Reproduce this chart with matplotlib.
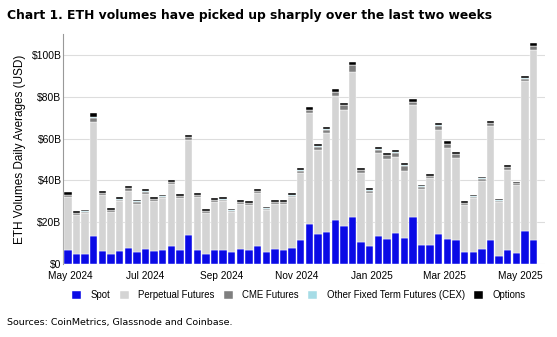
import numpy as np
import pandas as pd
import matplotlib
matplotlib.use("Agg")
import matplotlib.pyplot as plt
import matplotlib.dates as mdates
from matplotlib.ticker import FuncFormatter

# weekly bars, $B daily averages
weeks = pd.date_range("2024-04-29", periods=55, freq="7D")

total = [34.3, 25.2, 26.0, 72.4, 34.9, 26.9, 31.9, 37.3, 30.8, 35.7,
         31.9, 33.2, 40.2, 33.5, 61.9, 33.8, 26.3, 31.6, 31.9, 26.3,
         30.5, 30.1, 35.9, 27.3, 30.6, 30.6, 33.8, 45.9, 75.0, 57.3,
         65.4, 83.6, 77.2, 96.5, 46.1, 36.2, 56.0, 53.3, 54.5, 48.2,
         78.8, 37.9, 43.1, 67.5, 58.7, 53.7, 30.1, 33.2, 41.8, 68.6,
         31.1, 47.4, 39.4, 90.0, 105.6]
spot = [6.7, 4.6, 4.6, 13.5, 6.2, 4.8, 6.2, 7.5, 5.9, 6.9,
        6.1, 6.5, 8.5, 6.7, 13.7, 6.7, 4.9, 6.7, 6.7, 5.6,
        7.2, 6.7, 8.6, 5.9, 6.9, 6.5, 7.8, 11.2, 19.1, 14.4,
        15.3, 20.9, 18.3, 22.3, 10.7, 8.6, 13.1, 12.1, 14.7, 12.3,
        22.5, 9.0, 9.1, 14.4, 12.1, 11.6, 5.6, 5.6, 7.3, 11.2,
        4.0, 6.5, 5.1, 15.9, 11.5]
cme = [0.8, 0.6, 0.6, 2.2, 0.9, 0.9, 0.9, 1.0, 1.0, 0.9,
       0.8, 0.8, 1.0, 0.8, 1.2, 0.9, 0.8, 0.9, 0.8, 0.7,
       0.7, 0.8, 0.9, 0.6, 0.7, 0.8, 0.9, 1.2, 1.6, 1.5,
       1.6, 2.0, 2.0, 3.0, 1.2, 1.0, 1.6, 1.8, 2.0, 2.4,
       1.6, 0.9, 1.0, 2.0, 1.8, 1.5, 1.0, 0.9, 1.0, 1.5,
       0.8, 1.5, 0.8, 1.4, 2.0]
other_fixed = [0.2] * 55
options = [1.3, 0.8, 0.8, 2.2, 1.0, 1.0, 0.9, 1.0, 0.9, 1.0,
           0.8, 0.8, 1.0, 0.8, 1.2, 0.8, 0.8, 1.0, 0.9, 0.7,
           0.8, 0.9, 0.9, 0.7, 0.9, 0.9, 0.9, 1.2, 1.2, 1.1,
           1.0, 1.2, 1.2, 1.3, 1.0, 1.0, 1.1, 1.0, 1.0, 1.0,
           1.2, 0.8, 1.0, 1.2, 1.1, 1.1, 0.8, 0.8, 0.8, 1.0,
           0.6, 0.9, 0.7, 1.1, 1.2]

total = np.array(total)
spot = np.array(spot)
cme = np.array(cme)
other_fixed = np.array(other_fixed)
options = np.array(options)
perpetual = total - spot - cme - other_fixed - options

series = [("Spot", spot, "#0a0ae6"),
          ("Perpetual Futures", perpetual, "#d4d4d4"),
          ("CME Futures", cme, "#7f7f7f"),
          ("Other Fixed Term Futures (CEX)", other_fixed, "#a6dce6"),
          ("Options", options, "#000000")]

plt.rcParams["font.family"] = ["Liberation Sans", "DejaVu Sans"]

fig = plt.figure(figsize=(5.57, 3.37), dpi=100)
ax = fig.add_axes([0.113, 0.217, 0.865, 0.682])

bottom = np.zeros(len(weeks))
for name, vals, col in series:
    ax.bar(weeks, vals, bottom=bottom, width=6.0, color=col, label=name,
           edgecolor="white", linewidth=0.3, zorder=3)
    bottom += vals

ax.set_ylim(0, 110)
ax.set_yticks([0, 20, 40, 60, 80, 100])
ax.yaxis.set_major_formatter(FuncFormatter(lambda v, p: "$0" if v == 0 else f"${v:.0f}B"))
ax.set_xlim(pd.Timestamp("2024-04-25"), pd.Timestamp("2025-05-21"))
ax.xaxis.set_major_locator(mdates.MonthLocator(bymonth=[1, 3, 5, 7, 9, 11]))
ax.xaxis.set_major_formatter(mdates.DateFormatter("%b %Y"))
ax.tick_params(axis="y", length=0, labelsize=7.5, pad=1)
ax.tick_params(axis="x", length=0, labelsize=7.3, pad=5)
ax.grid(axis="y", color="#dddddd", linewidth=0.8, zorder=0)
for s in ["top", "right", "bottom"]:
    ax.spines[s].set_visible(False)
ax.spines["left"].set_color("#999999")
ax.set_ylabel("ETH Volumes Daily Averages (USD)", fontsize=8.5, labelpad=4)

ax.legend(loc="center", bbox_to_anchor=(0.49, -0.135), ncol=5, frameon=False,
          fontsize=6.9, handlelength=0.9, handleheight=0.9, handletextpad=1.0,
          columnspacing=1.0, borderpad=0.2)

fig.text(0.013, 0.955, "Chart 1. ETH volumes have picked up sharply over the last two weeks",
         fontsize=8.9, fontweight="bold", family="DejaVu Sans", va="center")
fig.text(0.013, 0.042, "Sources: CoinMetrics, Glassnode and Coinbase.",
         fontsize=6.8, family="DejaVu Sans", va="center")

fig.savefig("out.png", dpi=100)
